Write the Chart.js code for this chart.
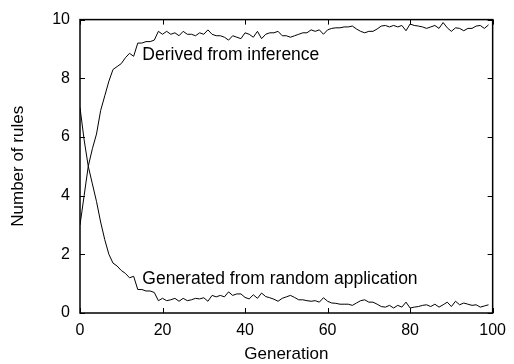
<!DOCTYPE html>
<html>
<head>
<meta charset="utf-8">
<script src="https://cdn.jsdelivr.net/npm/chart.js@4/dist/chart.umd.min.js"></script>
<style>
  body { margin: 0; background: #fff; }
</style>
</head>
<body>
<canvas id="myChart" width="514" height="364"></canvas>
<script>
const generations = Array.from({ length: 100 }, (_, i) => i);

const derived = [
  3.0, 4.0, 5.0, 5.6, 6.1, 6.9, 7.4, 7.9, 8.3, 8.4,
  8.5, 8.7, 8.85, 8.75, 9.2, 9.2, 9.25, 9.25, 9.3, 9.6,
  9.5, 9.6, 9.5, 9.55, 9.45, 9.6, 9.5, 9.5, 9.45, 9.55,
  9.5, 9.65, 9.5, 9.45, 9.45, 9.4, 9.3, 9.45, 9.4, 9.35,
  9.55, 9.5, 9.4, 9.6, 9.35, 9.5, 9.55, 9.55, 9.6, 9.45,
  9.45, 9.4, 9.45, 9.5, 9.55, 9.55, 9.65, 9.6, 9.65, 9.5,
  9.65, 9.7, 9.72, 9.72, 9.75, 9.75, 9.78, 9.68, 9.6, 9.55,
  9.6, 9.6, 9.68, 9.78, 9.8, 9.75, 9.8, 9.75, 9.8, 9.62,
  9.85, 9.8, 9.78, 9.75, 9.7, 9.75, 9.8, 9.7, 9.9, 9.72,
  9.6, 9.72, 9.7, 9.62, 9.7, 9.7, 9.78, 9.8, 9.7, 9.82,
];

const generated = [
  7.0, 5.9, 5.0, 4.4, 3.8, 3.1, 2.5, 2.0, 1.7, 1.6,
  1.45, 1.35, 1.2, 1.25, 0.8, 0.8, 0.75, 0.75, 0.7, 0.42,
  0.5, 0.42, 0.45, 0.5, 0.4, 0.5, 0.42, 0.45, 0.5, 0.48,
  0.52, 0.4, 0.6, 0.55, 0.6, 0.55, 0.72, 0.6, 0.65, 0.65,
  0.53, 0.48, 0.62, 0.5, 0.68, 0.56, 0.52, 0.47, 0.4, 0.5,
  0.55, 0.6, 0.53, 0.45, 0.45, 0.42, 0.4, 0.42, 0.37, 0.52,
  0.4, 0.34, 0.33, 0.3, 0.3, 0.3, 0.26, 0.34, 0.42, 0.45,
  0.37, 0.37, 0.3, 0.22, 0.2, 0.26, 0.17, 0.26, 0.2, 0.37,
  0.17, 0.2, 0.22, 0.26, 0.28, 0.22, 0.3, 0.2, 0.28, 0.37,
  0.22, 0.4, 0.28, 0.34, 0.3, 0.26, 0.28, 0.2, 0.24, 0.28,
];

const seriesNames = ['Derived from inference', 'Generated from random application'];
const xTicks = [0, 20, 40, 60, 80, 100];
const yTicks = [0, 2, 4, 6, 8, 10];

const FONT = '"Liberation Sans", Arial, Helvetica, sans-serif';

// gnuplot style: closed frame, ticks pointing inwards, labels next to the curves
const gnuplotFrame = {
  id: 'gnuplotFrame',
  afterDatasetsDraw(chart) {
    const { ctx, chartArea: a, scales: { x, y } } = chart;
    ctx.save();
    ctx.strokeStyle = '#000';
    ctx.lineWidth = 1;
    ctx.beginPath();
    xTicks.forEach((v) => {
      const px = Math.round(x.getPixelForValue(v)) + 0.5;
      ctx.moveTo(px, a.bottom);
      ctx.lineTo(px, a.bottom - 5);
      ctx.moveTo(px, a.top);
      ctx.lineTo(px, a.top + 5);
    });
    yTicks.forEach((v) => {
      const py = Math.round(y.getPixelForValue(v)) + 0.5;
      ctx.moveTo(a.left, py);
      ctx.lineTo(a.left + 5, py);
      ctx.moveTo(a.right, py);
      ctx.lineTo(a.right - 5, py);
    });
    ctx.stroke();

    ctx.lineWidth = 1.5;
    ctx.strokeRect(a.left, a.top, a.right - a.left, a.bottom - a.top);

    ctx.fillStyle = '#000';
    ctx.font = '17.5px ' + FONT;
    ctx.textAlign = 'left';
    ctx.textBaseline = 'middle';
    ctx.fillText(seriesNames[0], x.getPixelForValue(15.1), y.getPixelForValue(8.8));
    ctx.fillText(seriesNames[1], x.getPixelForValue(15.1), y.getPixelForValue(1.17));
    ctx.restore();
  },
};

const ctx = document.getElementById('myChart');

new Chart(ctx, {
  type: 'line',
  data: {
    labels: generations,
    datasets: [
      {
        label: seriesNames[0],
        data: derived,
        borderColor: '#000',
        borderWidth: 1,
        pointRadius: 0,
        tension: 0,
      },
      {
        label: seriesNames[1],
        data: generated,
        borderColor: '#000',
        borderWidth: 1,
        pointRadius: 0,
        tension: 0,
      },
    ],
  },
  options: {
    responsive: false,
    animation: false,
    layout: {
      padding: { top: 18, right: 16, left: 0, bottom: 0 },
    },
    plugins: {
      legend: { display: false },
      tooltip: { enabled: false },
    },
    scales: {
      x: {
        type: 'linear',
        min: 0,
        max: 100,
        afterBuildTicks: (scale) => {
          scale.ticks = xTicks.map((v) => ({ value: v }));
        },
        afterFit: (scale) => {
          scale.height = 51;
        },
        grid: { display: false, drawTicks: false },
        border: { display: false },
        ticks: {
          color: '#000',
          padding: 8,
          maxRotation: 0,
          font: { family: FONT, size: 16 },
        },
        title: {
          display: true,
          text: 'Generation',
          color: '#000',
          padding: { top: 0, bottom: -1 },
          font: { family: FONT, size: 17 },
        },
      },
      y: {
        min: 0,
        max: 10,
        afterBuildTicks: (scale) => {
          scale.ticks = yTicks.map((v) => ({ value: v }));
        },
        afterFit: (scale) => {
          scale.width = 80;
        },
        grid: { display: false, drawTicks: false },
        border: { display: false },
        ticks: {
          color: '#000',
          padding: 10,
          font: { family: FONT, size: 16 },
        },
        title: {
          display: true,
          text: 'Number of rules',
          color: '#000',
          padding: { top: 8, bottom: 0 },
          font: { family: FONT, size: 17 },
        },
      },
    },
  },
  plugins: [gnuplotFrame],
});
</script>
</body>
</html>
